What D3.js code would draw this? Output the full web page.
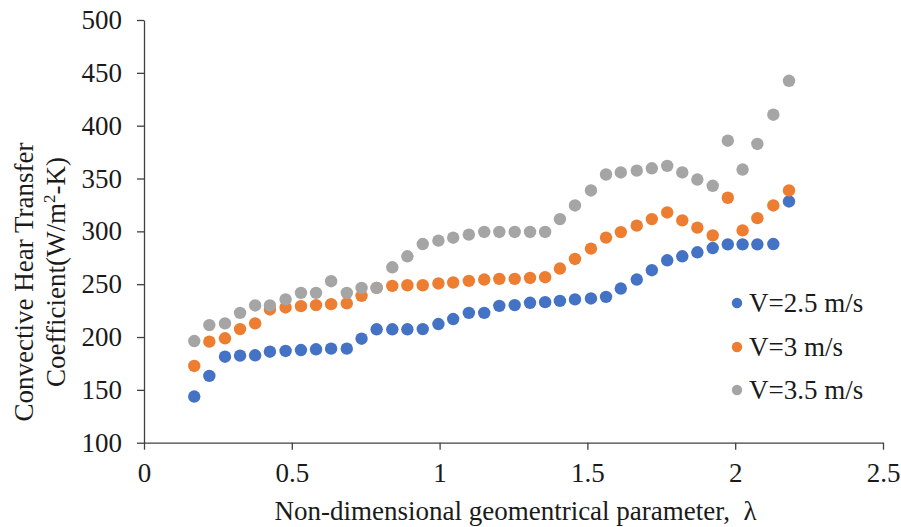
<!DOCTYPE html>
<html>
<head>
<meta charset="utf-8">
<script src="https://cdn.jsdelivr.net/npm/d3@7"></script>
<style>
  html, body { margin: 0; padding: 0; background: #fff; }
  svg { display: block; }
  text { font-family: "Liberation Serif", "Times New Roman", serif; fill: #1a1a1a; }
</style>
</head>
<body>
<svg id="chart" width="901" height="527"></svg>
<script>
const lambda = [0.170, 0.221, 0.274, 0.325, 0.376, 0.426, 0.479, 0.531, 0.582, 0.633,
  0.686, 0.736, 0.787, 0.840, 0.891, 0.943, 0.996, 1.046, 1.099, 1.151,
  1.202, 1.254, 1.306, 1.357, 1.407, 1.458, 1.512, 1.563, 1.613, 1.667,
  1.718, 1.770, 1.821, 1.872, 1.924, 1.975, 2.025, 2.075, 2.129, 2.182];

const v25 = [143.7, 163.2, 181.4, 182.4, 182.7, 186.1, 186.8, 187.7, 188.4, 189.0,
  189.0, 198.4, 207.3, 207.3, 207.3, 207.5, 212.3, 217.0, 222.9, 222.9,
  229.5, 230.2, 232.4, 233.0, 234.2, 235.6, 236.5, 238.0, 245.9, 254.4,
  263.2, 272.6, 276.4, 280.2, 284.2, 287.7, 287.7, 287.7, 288.0, 328.3];

const v3 = [172.6, 195.6, 198.8, 207.5, 212.9, 226.1, 228.0, 229.2, 230.2, 231.1,
  231.8, 239.0, 246.5, 248.4, 249.0, 249.0, 250.7, 251.6, 253.1, 254.4,
  255.0, 255.0, 255.9, 256.6, 264.8, 273.9, 283.7, 294.1, 299.3, 305.4,
  311.6, 317.9, 310.4, 303.5, 296.2, 331.8, 300.9, 312.5, 324.5, 338.7];

const v35 = [196.2, 211.3, 212.9, 222.9, 229.9, 229.9, 235.6, 241.8, 241.8, 252.8,
  241.8, 246.5, 246.5, 266.0, 276.4, 288.0, 291.2, 294.0, 296.9, 299.4,
  299.4, 299.4, 299.4, 299.4, 311.6, 324.5, 338.7, 353.8, 355.7, 357.5,
  359.7, 362.0, 355.7, 349.0, 343.1, 385.8, 358.5, 382.7, 410.4, 442.5];

const seriesNames = ["V=2.5 m/s", "V=3 m/s", "V=3.5 m/s"];
const seriesColors = ["#4472C4", "#ED7D31", "#A5A5A5"];
const seriesValues = [v25, v3, v35];

const xTicks = [0, 0.5, 1, 1.5, 2, 2.5];
const xTickLabels = ["0", "0.5", "1", "1.5", "2", "2.5"];
const yTicks = [100, 150, 200, 250, 300, 350, 400, 450, 500];

(function () {
const svg = d3.select("#chart");
const mLeft = 144, mRight = 883, mTop = 20, mBottom = 442.7;
const fs = 27;

const x = d3.scaleLinear().domain([0, 2.5]).range([mLeft, mRight]);
const y = d3.scaleLinear().domain([100, 500]).range([mBottom, mTop]);

const axisColor = "#404040";

// Y axis
const yAxis = svg.append("g")
  .attr("transform", `translate(${mLeft},0)`)
  .call(d3.axisLeft(y).tickValues(yTicks).tickSize(7).tickSizeOuter(0).tickPadding(15));
yAxis.select(".domain").attr("stroke", axisColor).attr("stroke-width", 1.3);
yAxis.selectAll(".tick line").attr("stroke", axisColor).attr("stroke-width", 1.3);
yAxis.selectAll(".tick text").attr("font-size", fs).attr("fill", "#1a1a1a")
  .style("font-family", '"Liberation Serif", serif');

// X axis
const xAxis = svg.append("g")
  .attr("transform", `translate(0,${mBottom})`)
  .call(d3.axisBottom(x).tickValues(xTicks).tickFormat((d, i) => xTickLabels[i]).tickSize(7).tickSizeOuter(0).tickPadding(13));
xAxis.select(".domain").attr("stroke", axisColor).attr("stroke-width", 1.3);
xAxis.selectAll(".tick line").attr("stroke", axisColor).attr("stroke-width", 1.3);
xAxis.selectAll(".tick text").attr("font-size", fs).attr("fill", "#1a1a1a")
  .style("font-family", '"Liberation Serif", serif');

// Points
seriesValues.forEach((vals, s) => {
  svg.append("g").selectAll("circle")
    .data(vals.map((v, i) => ({ x: lambda[i], y: v })))
    .join("circle")
    .attr("cx", d => x(d.x))
    .attr("cy", d => y(d.y))
    .attr("r", 6.2)
    .attr("fill", seriesColors[s]);
});

// X axis title
svg.append("text")
  .attr("x", 515.5)
  .attr("y", 520)
  .attr("text-anchor", "middle")
  .attr("font-size", fs)
  .style("white-space", "pre")
  .text("Non-dimensional geomentrical parameter,  λ");

// Y axis title (two lines)
svg.append("text")
  .attr("transform", "translate(33,282) rotate(-90)")
  .attr("text-anchor", "middle")
  .attr("font-size", fs)
  .text("Convective Hear Transfer");

const yt2 = svg.append("text")
  .attr("transform", "translate(65,272) rotate(-90)")
  .attr("text-anchor", "middle")
  .attr("font-size", fs);
yt2.append("tspan").text("Coefficient(W/m");
yt2.append("tspan").attr("font-size", 17).attr("dy", -10).text("2");
yt2.append("tspan").attr("dy", 10).text("-K)");

// Legend
const legendY = [303, 347, 390];
seriesNames.forEach((name, i) => {
  svg.append("circle")
    .attr("cx", 737).attr("cy", legendY[i]).attr("r", 5.2)
    .attr("fill", seriesColors[i]);
  svg.append("text")
    .attr("x", 749).attr("y", legendY[i] + 9)
    .attr("font-size", fs)
    .text(name);
});
})();
</script>
</body>
</html>
